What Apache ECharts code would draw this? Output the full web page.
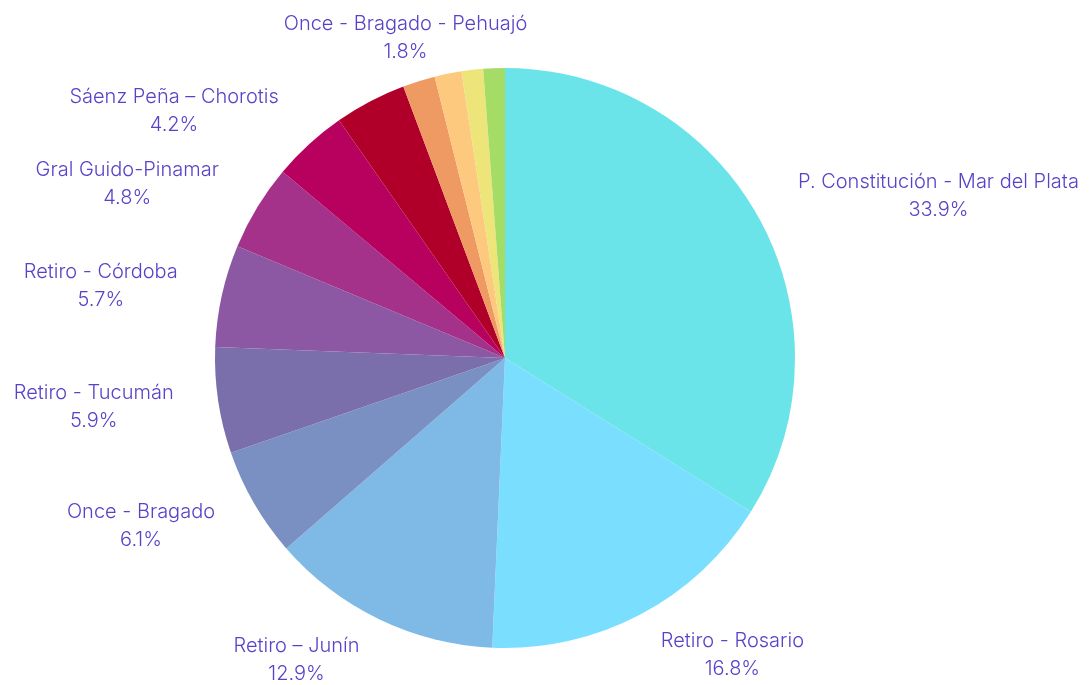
<!DOCTYPE html>
<html>
<head>
<meta charset="utf-8">
<script src="https://cdn.jsdelivr.net/npm/echarts@6/dist/echarts.min.js"></script>
<style>
  html, body { margin: 0; padding: 0; background: #fff; }
  #main { width: 1091px; height: 685px; }
</style>
</head>
<body>
<div id="main"></div>
<script>
const routes = [
  'P. Constitución - Mar del Plata',
  'Retiro - Rosario',
  'Retiro – Junín',
  'Once - Bragado',
  'Retiro - Tucumán',
  'Retiro - Córdoba',
  'Gral Guido-Pinamar',
  'Sáenz Peña – Chorotis',
  'P. Constitución - Bahía Blanca',
  'Once - Bragado - Pehuajó',
  'Retiro - Rufino',
  'P. Constitución - Tandil',
  'Retiro - Santa Fe'
]
const shares = [33.9, 16.8, 12.9, 6.1, 5.9, 5.7, 4.8, 4.2, 4.0, 1.8, 1.5, 1.2, 1.2]
const colors = ['#6ae4e9', '#7adfff', '#7fb9e6', '#7a90c2', '#7b6fab', '#8c57a3', '#a5328a',
  '#b8005e', '#b0002a', '#ee9a62', '#fdc97e', '#ede47a', '#a5dc66']
const hiddenLabels = [8, 10, 11, 12]
const centeredLabel = 9

const chart = echarts.init(document.getElementById('main'))

chart.setOption({
  animation: false,
  textStyle: { fontFamily: 'Inter' },
  series: [{
    type: 'pie',
    center: [505, 358],
    radius: 290,
    startAngle: 90,
    clockwise: true,
    avoidLabelOverlap: false,
    percentPrecision: 1,
    itemStyle: { borderWidth: 0 },
    label: {
      position: 'outside',
      distanceToLabelLine: 0,
      bleedMargin: 0,
      color: '#5843c8',
      fontSize: 20,
      lineHeight: 28,
      formatter: '{n|{b}}\n{n|{d}%}',
      rich: { n: { align: 'center', fontSize: 20, fontWeight: 300, lineHeight: 28, color: '#5843c8' } }
    },
    labelLine: { show: false, length: 45, length2: 0 },
    labelLayout: function (p) {
      if (p.dataIndex === centeredLabel) return { align: 'center' }
    },
    emphasis: { disabled: true },
    data: routes.map((name, i) => ({
      name: name,
      value: shares[i],
      itemStyle: { color: colors[i] },
      label: { show: hiddenLabels.indexOf(i) < 0 }
    }))
  }]
})
</script>
</body>
</html>
